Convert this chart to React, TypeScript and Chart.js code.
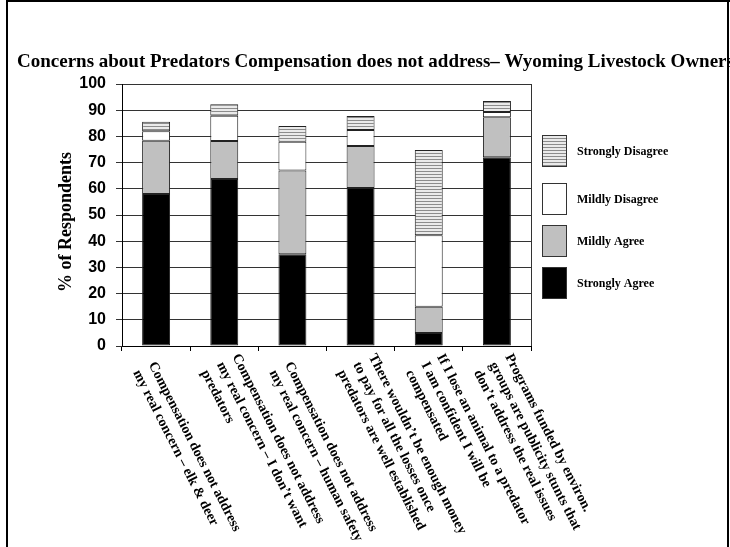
import React, { useEffect, useRef } from "react";
import { Chart, registerables } from "chart.js";

Chart.register(...registerables);

const titleText = "Concerns about Predators Compensation does not address– Wyoming Livestock Owners";
const yAxisTitle = "% of Respondents";

const categories: string[][] = [
  ["Compensation does not address", "my real concern – elk & deer"],
  ["Compensation does not address", "my real concern – I don’t want", "predators"],
  ["Compensation does not address", "my real concern – human safety"],
  ["There wouldn’t be enough money", "to pay for all the losses once", "predators are well established"],
  ["If I lose an animal to a predator", "I am confident I will be", "compensated"],
  ["Programs funded by environ.", "groups are publicity stunts that", "don’t address the real issues"],
];

const seriesNames = ["Strongly Agree", "Mildly Agree", "Mildly Disagree", "Strongly Disagree"];
const stronglyAgree = [58, 63.7, 35, 60.3, 5, 72];
const mildlyAgree = [20.3, 14.5, 32, 16, 10, 15.3];
const mildlyDisagree = [3.7, 9.7, 11, 6.1, 27.3, 2];
const stronglyDisagree = [3.6, 4.4, 6, 5.4, 32.5, 4.2];

const yTicks = [0, 10, 20, 30, 40, 50, 60, 70, 80, 90, 100];

function makeStripes(): CanvasPattern | string {
  const c = document.createElement("canvas");
  c.width = 4;
  c.height = 3;
  const g = c.getContext("2d");
  if (!g) return "#bbb";
  g.fillStyle = "#eaeaea";
  g.fillRect(0, 0, 4, 3);
  g.fillStyle = "#8c8c8c";
  g.fillRect(0, 0, 4, 1);
  const p = g.createPattern(c, "repeat");
  return p || "#bbb";
}

const SERIF = "'Liberation Serif', 'Times New Roman', serif";
const SANS = "'Liberation Sans', Arial, sans-serif";

const decorPlugin = {
  id: "decor",
  beforeDatasetsDraw(chart: any) {
    const { ctx, chartArea: a } = chart;
    ctx.save();
    ctx.strokeStyle = "#333";
    ctx.lineWidth = 1;
    const x = Math.round(a.right) + 0.5;
    ctx.beginPath();
    ctx.moveTo(x, a.top);
    ctx.lineTo(x, a.bottom);
    ctx.stroke();
    ctx.restore();
  },
  afterDraw(chart: any) {
    const { ctx, chartArea: a } = chart;
    const xs = chart.scales.x;
    ctx.save();

    // outer frame
    ctx.fillStyle = "#000";
    ctx.fillRect(6, 0, 2, chart.height);
    ctx.fillRect(6, 0, chart.width - 6, 2);
    ctx.fillRect(727, 0, 2, chart.height);

    // title
    ctx.font = `bold 19px ${SERIF}`;
    ctx.fillStyle = "#000";
    ctx.textAlign = "left";
    ctx.textBaseline = "alphabetic";
    ctx.fillText(titleText, 17, 67);

    // y-axis title
    ctx.save();
    ctx.translate(66, 222);
    ctx.rotate(-Math.PI / 2);
    ctx.font = `bold 18px ${SERIF}`;
    ctx.textAlign = "center";
    ctx.textBaseline = "middle";
    ctx.fillText(yAxisTitle, 0, 0);
    ctx.restore();

    // x category labels (rotated clockwise)
    const theta = (63 * Math.PI) / 180;
    ctx.font = `bold 14px ${SERIF}`;
    ctx.textAlign = "left";
    ctx.textBaseline = "top";
    const lineH = 17.5;
    categories.forEach((lines, i) => {
      const cx = xs.getPixelForValue(i);
      ctx.save();
      ctx.translate(cx, a.bottom);
      ctx.rotate(theta);
      const n = lines.length;
      lines.forEach((ln, j) => {
        const perp = 22 - lineH * (n - 1 - j);
        ctx.fillText(ln, 13, perp);
      });
      ctx.restore();
    });

    // legend
    const ds = chart.data.datasets;
    const boxTops = [135, 183, 225, 267];
    const bx = a.right + 11;
    ctx.font = `bold 12px ${SERIF}`;
    ctx.textBaseline = "middle";
    for (let k = 0; k < ds.length; k++) {
      const d = ds[ds.length - 1 - k];
      const top = boxTops[k];
      ctx.fillStyle = d.backgroundColor;
      ctx.fillRect(bx, top, 24, 31);
      ctx.strokeStyle = "#333";
      ctx.lineWidth = 1;
      ctx.strokeRect(bx + 0.5, top + 0.5, 24, 31);
      ctx.fillStyle = "#000";
      ctx.fillText(d.label, bx + 35, top + 17);
    }
    ctx.restore();
  },
};

export default function App() {
  const ref = useRef<HTMLCanvasElement | null>(null);
  useEffect(() => {
    if (!ref.current) return;
    const stripes = makeStripes();
    const fills = ["#000000", "#c0c0c0", "#ffffff", stripes];
    const values = [stronglyAgree, mildlyAgree, mildlyDisagree, stronglyDisagree];
    const chart = new Chart(ref.current, {
      type: "bar",
      data: {
        labels: categories.map((c) => c.join(" ")),
        datasets: seriesNames.map((name, i) => ({
          label: name,
          data: values[i],
          backgroundColor: fills[i] as any,
          borderColor: "#222",
          borderWidth: 1,
          borderSkipped: false,
          categoryPercentage: 1,
          barPercentage: 0.41,
        })),
      },
      options: {
        responsive: false,
        animation: false,
        devicePixelRatio: 1,
        layout: { padding: { left: 0, top: 84, right: 199, bottom: 0 } },
        plugins: {
          legend: { display: false },
          title: { display: false },
          tooltip: { enabled: false },
        },
        scales: {
          x: {
            stacked: true,
            grid: {
              display: true,
              drawOnChartArea: false,
              drawTicks: true,
              tickLength: 5,
              color: "#000",
              offset: true,
            },
            border: { display: true, color: "#000", width: 1 },
            ticks: { display: false },
            afterFit(scale: any) {
              scale.height = 201;
            },
          },
          y: {
            stacked: true,
            min: 0,
            max: 100,
            afterBuildTicks(scale: any) {
              scale.ticks = yTicks.map((v) => ({ value: v }));
            },
            grid: { color: "#333", drawTicks: true, tickLength: 6 },
            border: { display: true, color: "#000", width: 1 },
            ticks: {
              color: "#000",
              font: { family: SANS, size: 16, weight: "bold" },
              padding: 10,
            },
            afterFit(scale: any) {
              scale.width = 122;
            },
          },
        },
      },
      plugins: [decorPlugin],
    });
    return () => chart.destroy();
  }, []);
  return (
    <div style={{ position: "absolute", left: 0, top: 0, width: 730, height: 547, background: "#fff" }}>
      <canvas ref={ref} width={730} height={547} style={{ display: "block", width: 730, height: 547 }} />
    </div>
  );
}
